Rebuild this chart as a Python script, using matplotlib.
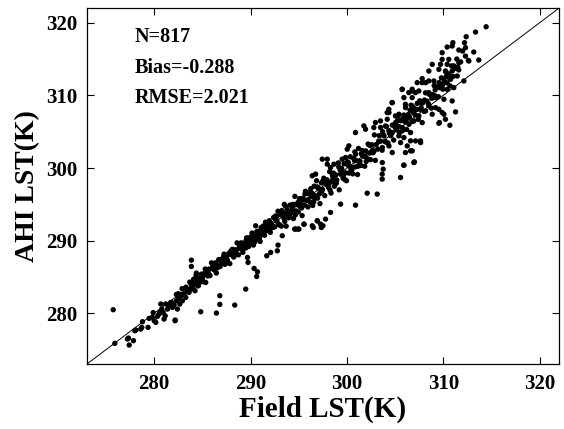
import matplotlib
matplotlib.use("Agg")
import matplotlib.pyplot as plt

plt.rcParams['font.family'] = ['Liberation Serif', 'DejaVu Serif']
plt.rcParams['font.weight'] = 'bold'

# ---- Data ----
field_low = [275.75, 275.92, 277.34, 277.41, 277.85, 277.23, 277.99, 278.10, 278.61, 278.79,
             278.72, 279.37, 279.48, 279.82, 280.00, 280.17, 280.34, 280.51, 280.69, 280.79,
             280.93, 281.03, 281.14, 281.38, 281.55, 281.72, 281.90, 282.07, 282.17, 282.31,
             282.41, 282.52, 282.66, 282.76, 282.93, 283.10, 283.28, 283.45, 283.62, 283.80,
             283.97, 284.14, 284.24, 284.38, 284.38, 284.59, 284.66, 284.83, 285.00, 285.18,
             285.35, 285.52, 283.86, 283.86]
ahi_low = [280.50, 275.87, 276.60, 275.64, 276.24, 276.47, 277.61, 277.70, 277.84, 278.85,
           278.07, 278.07, 279.31, 279.44, 278.99, 278.76, 279.58, 279.90, 281.28, 280.59,
           280.13, 279.21, 279.67, 280.59, 281.05, 281.50, 280.82, 281.14, 278.99, 281.73,
           280.59, 282.05, 281.28, 282.42, 281.73, 282.65, 282.19, 283.11, 282.88, 283.34,
           283.57, 284.02, 283.11, 284.48, 285.54, 283.80, 284.71, 280.22, 284.94, 285.40,
           284.25, 285.63, 287.32, 286.45]

# scattered points around 282-298 K
field_scat = [282.18, 286.46, 286.81, 286.81, 288.36, 289.50, 290.37, 290.71, 290.64, 289.74,
              289.68, 294.58, 294.93, 295.55, 296.51, 296.93, 297.34, 291.68, 292.78, 292.85,
              292.09, 293.5, 295.2, 292.6, 292.1]
ahi_scat = [279.08, 280.04, 282.43, 281.23, 281.14, 283.34, 286.18, 285.72, 285.08, 287.01,
            287.69, 291.59, 291.59, 292.27, 291.82, 292.73, 291.82, 287.92, 288.61, 289.39,
            288.38, 295.0, 295.7, 293.4, 292.3]

# dense core 280-293 K
field_core1 = [283.8, 283.9, 284.1, 284.2, 284.35, 284.5, 284.6, 284.75, 284.9, 285.0,
               285.15, 285.3, 285.4, 285.55, 285.7, 285.8, 285.95, 286.05, 286.2, 286.35,
               286.45, 286.6, 286.7, 286.85, 287.0, 287.1, 287.25, 287.35, 287.5, 287.6,
               287.75, 287.85, 288.0, 288.1, 288.25, 288.35, 288.5, 288.6, 288.75, 288.85,
               289.0, 289.1, 289.2, 289.35, 289.45, 289.6, 289.7, 289.8, 289.95, 290.05,
               290.15, 290.3, 290.4, 290.5, 290.65, 290.75, 290.85, 291.0, 291.1, 291.2,
               291.35, 291.45, 291.55, 291.7, 291.8, 291.9, 292.05, 292.15, 292.25, 292.4,
               292.5, 292.6, 292.75, 292.85, 293.0, 293.1,
               286.3, 286.9, 287.4, 287.9, 288.4, 288.9, 289.3, 289.65, 289.9, 290.25,
               290.6, 290.95, 291.25, 291.65, 292.0, 292.3, 292.7, 288.2, 289.5, 290.9,
               282.8, 283.3, 283.6, 282.5, 281.8, 281.2, 280.6, 279.9]
ahi_core1 = [284.1, 283.4, 284.7, 284.1, 285.25, 283.8, 284.8, 284.45, 285.4, 285.0,
             284.35, 286.1, 285.5, 285.15, 286.1, 285.2, 286.95, 286.25, 286.0, 286.95,
             285.55, 286.6, 287.4, 286.45, 287.3, 287.0, 288.15, 286.75, 287.7, 287.3,
             288.25, 286.85, 288.1, 288.8, 287.75, 288.65, 288.3, 289.7, 288.05, 289.25,
             288.9, 289.7, 288.4, 289.55, 289.05, 290.4, 289.7, 289.2, 290.45, 289.85,
             291.05, 289.4, 290.7, 290.2, 291.25, 290.25, 290.95, 289.9, 291.8, 291.0,
             291.75, 290.75, 292.55, 291.7, 291.4, 292.4, 291.15, 292.35, 291.95, 293.2,
             291.9, 292.9, 292.65, 294.05, 292.2, 293.6,
             286.4, 287.4, 287.2, 288.2, 288.4, 289.4, 289.5, 289.35, 290.0, 290.65,
             290.5, 291.25, 291.25, 292.05, 292.0, 291.8, 293.3, 288.8, 289.0, 290.3,
             282.6, 283.6, 283.2, 282.7, 281.5, 281.3, 280.2, 280.1]

# dense core 293-303 K
field_core2 = [293.2, 293.3, 293.45, 293.6, 293.7, 293.85, 293.95, 294.1, 294.2, 294.35,
               294.45, 294.6, 294.7, 294.85, 294.95, 295.1, 295.2, 295.35, 295.45, 295.6,
               295.7, 295.85, 295.95, 296.1, 296.2, 296.35, 296.45, 296.6, 296.7, 296.85,
               296.95, 297.1, 297.2, 297.35, 297.45, 297.6, 297.7, 297.85, 297.95, 298.1,
               298.2, 298.35, 298.45, 298.6, 298.7, 298.85, 298.95, 299.1, 299.2, 299.35,
               299.45, 299.6, 299.7, 299.85, 299.95, 300.1, 300.2, 300.35, 300.45, 300.6,
               300.7, 300.85, 300.95, 301.1, 301.2, 301.35, 301.45, 301.6, 301.7, 301.85,
               301.95, 302.1, 302.2, 302.35, 302.45, 302.6, 302.7, 302.85, 302.95, 303.05,
               293.5, 293.9, 294.3, 294.75, 295.15, 295.5, 295.9, 296.3, 296.65, 297.0,
               297.4, 297.8, 298.15, 298.55, 298.9, 299.3, 299.65, 300.05, 300.4, 300.8,
               301.15, 301.5, 301.9, 302.3, 302.65]
ahi_core2 = [292.0, 293.9, 293.15, 294.8, 292.0, 293.85, 293.15, 294.9, 293.8, 294.65,
             293.05, 296.1, 294.1, 294.95, 293.95, 295.8, 295.0, 293.45, 295.85, 294.9,
             296.8, 295.55, 294.65, 296.6, 295.3, 296.55, 294.85, 297.5, 296.2, 298.25,
             295.85, 297.1, 295.1, 297.95, 297.05, 298.6, 296.2, 297.75, 298.35, 297.3,
             299.5, 296.55, 298.15, 299.3, 297.5, 299.05, 298.35, 300.7, 297.0, 299.15,
             299.95, 298.6, 300.6, 299.35, 298.25, 300.4, 299.3, 301.55, 300.15, 299.2,
             301.3, 300.15, 301.05, 299.1, 302.7, 300.95, 300.35, 302.4, 301.6, 300.25,
             302.35, 301.3, 303.3, 302.05, 301.15, 303.2, 302.1, 304.55, 301.05, 303.25,
             293.7, 293.5, 294.2, 295.05, 294.65, 295.6, 296.5, 296.1, 295.85, 297.3,
             296.8, 298.4, 297.85, 298.65, 297.9, 299.7, 299.05, 300.85, 299.9, 301.0,
             300.25, 302.0, 301.6, 303.2, 302.45]

# scattered points around 290-311 K (middle crop)
field_mid = [290.53, 293.29, 294.68, 295.02, 295.54, 296.40, 296.92, 297.27, 297.51, 297.78,
             298.30, 299.34, 300.89, 302.10, 303.14, 303.66, 303.66, 303.76, 305.56, 305.90,
             307.00, 306.07, 307.63, 306.77, 306.60, 309.60, 310.22, 309.88,
             296.40, 296.75, 297.44, 297.96, 297.96, 298.30, 298.65, 299.51, 299.86, 300.03,
             300.20, 300.82, 300.89, 301.76, 301.93, 302.79, 302.96, 303.48, 304.17, 304.35,
             304.69, 305.04, 305.73, 306.07, 306.42, 306.77, 307.11, 307.80, 308.49]
ahi_mid = [292.05, 290.68, 291.60, 291.60, 292.28, 292.05, 292.74, 292.28, 292.05, 292.97,
           293.89, 295.03, 294.89, 296.54, 296.41, 298.47, 299.16, 299.84, 298.70, 300.39,
           300.85, 302.13, 303.74, 302.36, 303.74, 306.26, 306.71, 307.63,
           298.93, 299.16, 301.22, 301.22, 300.53, 300.07, 300.53, 301.22, 301.45, 302.59,
           303.05, 302.22, 304.88, 305.80, 305.34, 305.57, 306.26, 306.48, 307.63, 308.09,
           309.00, 307.17, 310.84, 308.77, 310.38, 310.84, 310.38, 311.75, 311.98]

# dense core 303-313 K
field_core3 = [303.2, 303.35, 303.5, 303.65, 303.8, 303.95, 304.1, 304.25, 304.4, 304.55,
               304.7, 304.85, 305.0, 305.15, 305.3, 305.45, 305.6, 305.75, 305.9, 306.05,
               306.2, 306.35, 306.5, 306.65, 306.8, 306.95, 307.1, 307.25, 307.4, 307.55,
               307.7, 307.85, 308.0, 308.15, 308.3, 308.45, 308.6, 308.75, 308.9, 309.05,
               309.2, 309.35, 309.5, 309.65, 309.8, 309.95, 310.1, 310.25, 310.4, 310.55,
               310.7, 310.85, 311.0, 311.2, 311.4, 311.6, 311.8, 312.0, 312.3, 312.6]
ahi_core3 = [302.6, 304.45, 303.7, 302.45, 304.5, 303.65, 305.7, 303.45, 304.8, 304.45,
             305.9, 303.85, 305.6, 305.25, 307.1, 304.85, 306.5, 305.55, 307.3, 306.35,
             305.3, 307.35, 307.0, 308.65, 306.4, 308.25, 307.3, 308.05, 306.7, 309.25,
             308.3, 308.95, 307.8, 310.35, 309.2, 308.85, 310.1, 308.25, 310.1, 311.35,
             309.9, 311.15, 309.8, 311.05, 312.4, 310.85, 312.0, 313.25, 311.7, 312.95,
             311.3, 314.05, 312.6, 313.7, 315.0, 313.5, 314.6, 316.1, 315.4, 314.8]

# additional dense-band points along the whole range
field_band = [282.3, 282.9, 283.4, 283.7, 284.0, 284.45, 284.8, 285.25, 285.65, 286.1,
              286.55, 286.95, 287.2, 287.55, 287.95, 288.3, 288.55, 288.95, 289.25, 289.55,
              289.85, 290.2, 290.45, 290.8, 291.05, 291.3, 291.6, 291.95, 292.2, 292.55,
              292.9, 293.25, 293.55, 293.8, 294.05, 294.4, 294.65, 295.0, 295.3, 295.65,
              296.0, 296.25, 296.55, 296.9, 297.15, 297.5, 297.9, 298.25, 298.5, 298.8,
              299.15, 299.5, 299.8, 300.15, 300.5, 300.9, 301.25, 301.55, 302.0, 302.4,
              302.8, 303.3, 303.7, 304.0, 304.35, 304.65, 305.05, 305.4, 305.8, 306.15,
              306.55, 306.9, 307.3, 307.65, 308.05, 308.4, 308.8, 309.15, 309.55, 309.9,
              310.3, 310.65, 311.1, 311.5]
ahi_band = [282.6, 283.4, 283.1, 284.3, 284.1, 284.85, 284.3, 285.55, 285.45, 286.6,
            286.25, 287.15, 287.8, 287.05, 288.55, 287.9, 288.75, 289.65, 288.95, 290.05,
            289.45, 290.8, 289.85, 291.3, 290.75, 292.0, 291.4, 292.75, 291.8, 292.95,
            292.2, 294.15, 292.65, 294.3, 293.55, 295.0, 293.55, 295.4, 294.5, 296.45,
            295.6, 297.15, 295.35, 297.4, 296.45, 298.2, 297.7, 296.95, 299.0, 297.9,
            300.15, 299.2, 298.4, 300.75, 299.7, 301.9, 300.85, 301.85, 300.9, 303.1,
            302.3, 303.7, 305.0, 303.6, 305.15, 304.85, 306.25, 305.7, 306.8, 306.65,
            307.95, 307.6, 308.9, 308.05, 309.35, 310.3, 309.6, 310.75, 311.75, 311.4,
            312.6, 312.35, 314.0, 313.9]

# high range
field_high = [314.44, 313.34, 312.37, 312.20, 310.99, 310.92, 310.40, 311.61, 312.30, 313.16,
              312.65, 313.68, 309.88, 309.88, 310.57, 309.71, 308.85, 310.40, 311.09, 311.61,
              309.54, 310.23, 310.92, 311.44, 312.13, 310.75, 308.50, 307.81, 308.16, 309.02,
              309.19, 309.88, 310.40, 311.09, 307.29, 306.77, 307.46, 305.74, 305.91, 306.77,
              308.50, 309.19, 310.06, 310.92, 307.64, 308.50, 309.19, 306.77, 304.70, 306.08,
              307.12, 308.16, 308.85, 309.54, 311.27, 310.06, 305.39, 304.36, 304.18, 305.22,
              306.26, 307.46, 306.94, 307.81, 306.43, 305.22, 304.01, 303.49, 305.74, 304.70,
              303.84, 305.39, 306.60, 307.64, 307.12, 309.54, 310.68, 305.91, 306.26, 306.60,
              305.57, 304.36, 304.70, 303.67, 305.91, 306.94, 303.67]
ahi_high = [319.44, 318.71, 318.07, 317.25, 317.25, 316.79, 316.65, 316.24, 316.56, 315.96,
            314.73, 314.86, 315.87, 314.95, 314.95, 314.27, 314.27, 314.27, 314.04, 314.50,
            313.58, 313.35, 313.35, 312.66, 311.98, 312.21, 313.35, 312.30, 311.75, 311.98,
            311.06, 311.52, 310.83, 311.06, 311.75, 310.60, 310.60, 310.83, 309.69, 309.69,
            310.37, 309.69, 309.46, 309.23, 309.00, 308.54, 308.31, 308.54, 309.00, 308.31,
            308.08, 307.85, 307.40, 308.08, 307.72, 307.40, 307.40, 307.63, 306.71, 306.48,
            306.94, 307.17, 306.48, 306.25, 306.02, 305.79, 305.79, 305.57, 305.11, 304.88,
            304.42, 304.42, 304.88, 303.50, 303.73, 306.16, 305.88, 304.19, 303.04, 302.36,
            303.50, 303.04, 302.13, 302.82, 300.39, 300.75, 300.75]

stats_text = ["N=817", "Bias=-0.288", "RMSE=2.021"]
axis_limits = [273, 322]
ticks = [280, 290, 300, 310, 320]

# ---- Plot ----
fig = plt.figure(figsize=(5.64, 4.29), dpi=100)
ax = fig.add_axes([0.1537, 0.151, 0.8374, 0.830])

groups = [(field_low, ahi_low), (field_scat, ahi_scat), (field_core1, ahi_core1),
          (field_core2, ahi_core2), (field_mid, ahi_mid), (field_core3, ahi_core3),
          (field_band, ahi_band), (field_high, ahi_high)]
for fx, fy in groups:
    ax.scatter(fx, fy, s=15, c='black', edgecolors='none', zorder=3)

ax.plot(axis_limits, axis_limits, color='black', lw=0.7, zorder=2)

ax.set_xlim(axis_limits)
ax.set_ylim(axis_limits)
ax.set_xticks(ticks)
ax.set_yticks(ticks)
ax.tick_params(direction='in', top=True, right=True, length=5, width=0.8,
               labelsize=15, pad=7)
for lab in ax.get_xticklabels() + ax.get_yticklabels():
    lab.set_fontweight('bold')
for sp in ax.spines.values():
    sp.set_linewidth(0.9)

ax.set_xlabel("Field LST(K)", fontsize=21, fontweight='bold', labelpad=1)
ax.set_ylabel("AHI LST(K)", fontsize=20, fontweight='bold', labelpad=4)

ys = [0.92, 0.832, 0.748]
for t, yy in zip(stats_text, ys):
    ax.text(0.102, yy, t, transform=ax.transAxes, fontsize=14.5, fontweight='bold',
            ha='left', va='center')

fig.savefig("out.png", dpi=100)
